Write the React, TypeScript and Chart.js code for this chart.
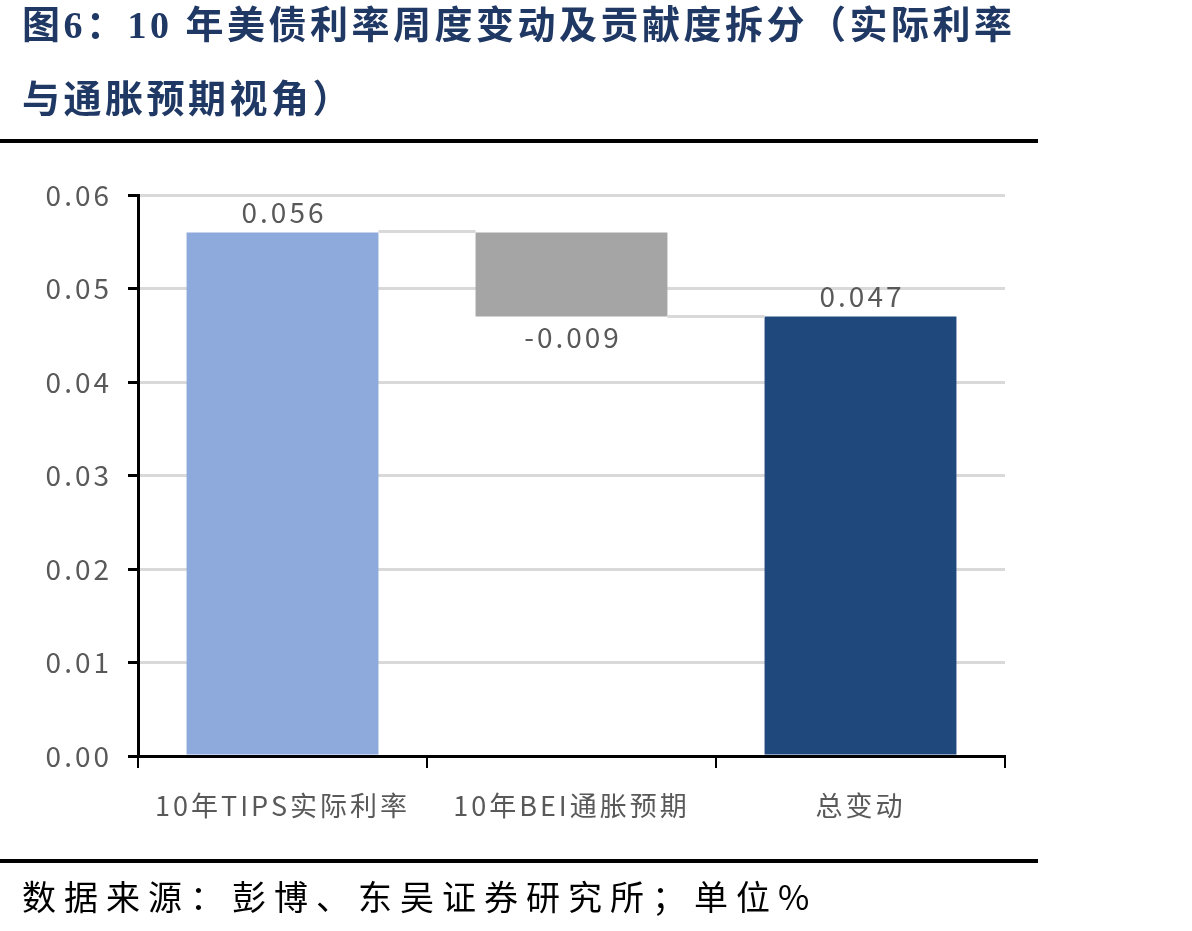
import React, { useEffect, useRef } from "react";
import { Chart, registerables } from "chart.js";

Chart.register(...registerables);

const categories = ["10年TIPS实际利率", "10年BEI通胀预期", "总变动"];
const contributions = [0.056, -0.009, 0.047];
const isTotal = [false, false, true];
const barColors = ["#8EA9DB", "#A5A5A5", "#1F497D"];
const valueLabels = ["0.056", "-0.009", "0.047"];
const yMin = 0;
const yMax = 0.06;
const yStep = 0.01;
const titleLines = ["图6：10 年美债利率周度变动及贡献度拆分（实际利率", "与通胀预期视角）"];
const sourceText = "数据来源：彭博、东吴证券研究所；单位%";

const FONT = '"Noto Sans CJK SC", "Noto Sans", sans-serif';
const TEXT_GREY = "#595959";

function buildFloating() {
  let running = 0;
  const out: [number, number][] = [];
  const ends: number[] = [];
  contributions.forEach((v, i) => {
    if (isTotal[i]) {
      out.push([0, v]);
      running = v;
    } else {
      out.push([running, running + v]);
      running += v;
    }
    ends.push(running);
  });
  return { out, ends };
}

export default function App() {
  const ref = useRef<HTMLCanvasElement | null>(null);

  useEffect(() => {
    if (!ref.current) return;
    const { out, ends } = buildFloating();

    const spacingPlugin = {
      id: "spacing",
      beforeLayout(chart: any) {
        chart.ctx.letterSpacing = "3px";
      },
      beforeDraw(chart: any) {
        chart.ctx.letterSpacing = "3px";
      },
    };

    const waterfallPlugin = {
      id: "waterfall",
      afterDatasetsDraw(chart: any) {
        const ctx = chart.ctx;
        const meta = chart.getDatasetMeta(0);
        const ys = chart.scales.y;
        ctx.save();
        // connectors
        ctx.strokeStyle = "#D9D9D9";
        ctx.lineWidth = 3;
        for (let i = 0; i < meta.data.length - 1; i++) {
          const a = meta.data[i];
          const b = meta.data[i + 1];
          const y = Math.round(ys.getPixelForValue(ends[i])) - 0.5;
          ctx.beginPath();
          ctx.moveTo(a.x + a.width / 2, y);
          ctx.lineTo(b.x - b.width / 2, y);
          ctx.stroke();
        }
        // labels
        ctx.letterSpacing = "3px";
        ctx.font = `28px ${FONT}`;
        ctx.fillStyle = TEXT_GREY;
        ctx.textAlign = "center";
        ctx.textBaseline = "middle";
        meta.data.forEach((el: any, i: number) => {
          const [s, e] = out[i];
          const top = ys.getPixelForValue(Math.max(s, e));
          const bottom = ys.getPixelForValue(Math.min(s, e));
          const y = contributions[i] >= 0 ? top - 20 : bottom + 21;
          ctx.fillText(valueLabels[i], el.x + 1.5, y);
        });
        ctx.restore();
      },
    };

    const chart = new Chart(ref.current, {
      type: "bar",
      data: {
        labels: categories,
        datasets: [
          {
            data: out as any,
            backgroundColor: barColors,
            borderWidth: 0,
            barPercentage: 0.664,
            categoryPercentage: 1,
          },
        ],
      },
      options: {
        animation: false,
        responsive: false,
        maintainAspectRatio: false,
        layout: { padding: { top: 195, right: 187, bottom: 0, left: 0 } },
        plugins: {
          legend: { display: false },
          tooltip: { enabled: false },
          title: { display: false },
        },
        scales: {
          x: {
            afterFit(scale: any) {
              scale.height = 931 - 756;
            },
            grid: {
              offset: true,
              drawOnChartArea: false,
              drawTicks: true,
              tickLength: 12,
              color: "#000",
              lineWidth: 2,
            },
            border: { display: true, color: "#000", width: 3 },
            ticks: {
              color: TEXT_GREY,
              font: { family: FONT, size: 27 },
              padding: 22,
              maxRotation: 0,
              autoSkip: false,
            },
          },
          y: {
            min: yMin,
            max: yMax,
            afterFit(scale: any) {
              scale.width = 138;
            },
            grid: {
              color: "#D9D9D9",
              lineWidth: 3,
              tickColor: "#000",
              tickLength: 10,
              drawTicks: true,
            },
            border: { display: true, color: "#000", width: 3 },
            ticks: {
              stepSize: yStep,
              color: TEXT_GREY,
              font: { family: FONT, size: 28 },
              padding: 16,
              callback: (v: any) => Number(v).toFixed(2),
            },
          },
        },
      },
      plugins: [spacingPlugin, waterfallPlugin],
    });
    return () => chart.destroy();
  }, []);

  return (
    <div style={{ position: "absolute", left: 0, top: 0, width: 1192, height: 931, background: "#fff", overflow: "hidden" }}>
      <canvas ref={ref} width={1192} height={931} style={{ position: "absolute", left: 0, top: 0, width: 1192, height: 931 }} />
      <div
        style={{
          position: "absolute",
          left: 22,
          top: -12,
          fontFamily: '"Liberation Serif", "Noto Sans CJK SC", serif',
          fontWeight: 700,
          fontSize: 38,
          lineHeight: "74px",
          letterSpacing: "3.5px",
          color: "#1F3864",
          whiteSpace: "nowrap",
        }}
      >
        {titleLines.map((l, i) => (
          <div key={i}>{l}</div>
        ))}
      </div>
      <div style={{ position: "absolute", left: 0, top: 139, width: 1038, height: 4, background: "#000" }} />
      <div style={{ position: "absolute", left: 0, top: 859, width: 1038, height: 4, background: "#000" }} />
      <div
        style={{
          position: "absolute",
          left: 22,
          top: 876,
          fontFamily: FONT,
          fontSize: 34,
          lineHeight: "40px",
          letterSpacing: "8px",
          color: "#000",
          whiteSpace: "nowrap",
        }}
      >
        {sourceText}
      </div>
    </div>
  );
}
